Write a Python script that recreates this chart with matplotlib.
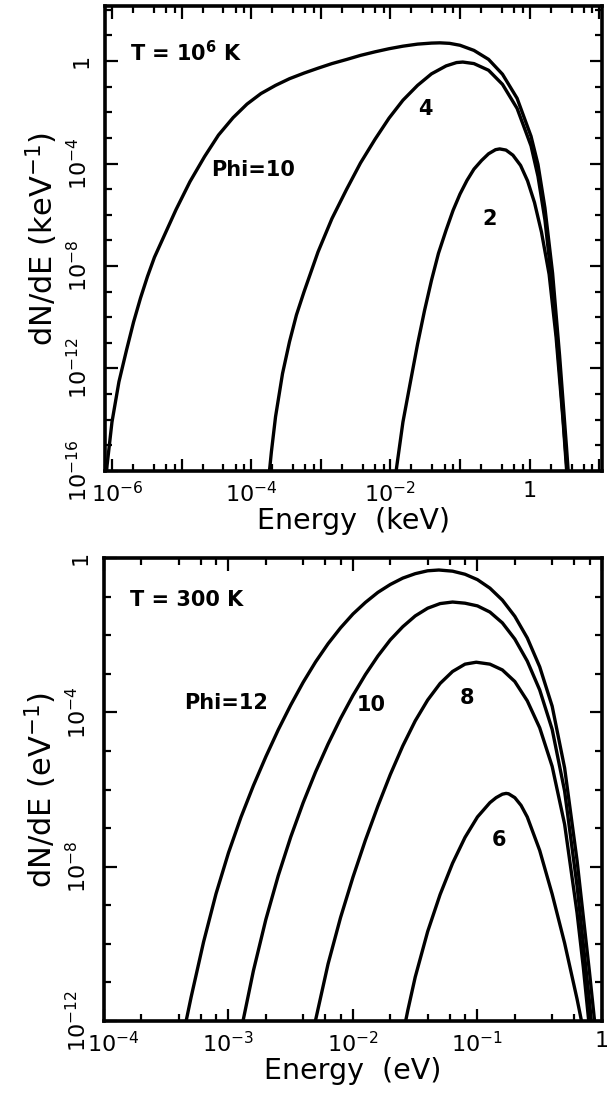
import matplotlib
matplotlib.use('Agg')
import matplotlib.pyplot as plt
import matplotlib.ticker as mticker
import matplotlib.transforms as mtransforms
import numpy as np

# T = 1e6 K spectra: log10(E / keV) and log10(dN/dE / keV^-1)
hot_phi10_logE = [-6.10, -6.07, -6.00, -5.90, -5.79, -5.69, -5.59, -5.49, -5.39, -5.28,
                  -5.08, -4.88, -4.67, -4.47, -4.26, -4.06, -3.86, -3.65, -3.45, -3.24,
                  -3.04, -2.84, -2.63, -2.43, -2.22, -2.02, -1.82, -1.61, -1.41, -1.29,
                  -1.15, -1.00, -0.80, -0.59, -0.39, -0.18, 0.02, 0.12, 0.22, 0.33,
                  0.43, 0.53, 0.56]
hot_phi10_logN = [-16.7, -15.77, -14.09, -12.52, -11.27, -10.19, -9.25, -8.41, -7.66, -7.00,
                  -5.80, -4.71, -3.73, -2.89, -2.21, -1.68, -1.27, -0.95, -0.69, -0.47,
                  -0.28, -0.10, 0.06, 0.22, 0.36, 0.48, 0.58, 0.66, 0.70, 0.71,
                  0.69, 0.615, 0.415, 0.065, -0.515, -1.455, -2.935, -4.035, -5.735, -8.285,
                  -11.485, -15.085, -16.24]

hot_phi4_logE = [-3.74, -3.71, -3.65, -3.55, -3.45, -3.35, -3.24, -3.04, -2.84, -2.63,
                 -2.43, -2.22, -2.02, -1.82, -1.61, -1.41, -1.20, -1.05, -0.96, -0.80,
                 -0.59, -0.39, -0.18, 0.02, 0.12, 0.22, 0.33, 0.43, 0.53, 0.55]
hot_phi4_logN = [-16.07, -15.26, -13.88, -12.2, -10.96, -9.91, -9.0, -7.45, -6.15, -5.01,
                 -3.98, -3.05, -2.23, -1.53, -0.95, -0.50, -0.19, -0.06, -0.04, -0.10,
                 -0.36, -0.91, -1.85, -3.31, -4.5, -6.2, -8.9, -12.1, -15.7, -16.4]

hot_phi2_logE = [-1.92, -1.91, -1.82, -1.71, -1.61, -1.51, -1.41, -1.31, -1.20, -1.10,
                 -1.00, -0.90, -0.80, -0.69, -0.59, -0.49, -0.43, -0.34, -0.24, -0.13,
                 -0.03, 0.07, 0.17, 0.28, 0.38, 0.48, 0.53, 0.55]
hot_phi2_logN = [-16.06, -15.84, -14.09, -12.49, -11.05, -9.74, -8.56, -7.51, -6.60, -5.83,
                 -5.19, -4.66, -4.22, -3.88, -3.62, -3.46, -3.43, -3.475, -3.675, -4.075,
                 -4.675, -5.525, -6.675, -8.325, -10.775, -14.025, -15.925, -16.7]

# T = 300 K spectra: log10(E / eV) and log10(dN/dE / eV^-1)
cold_phi12_logE = [-3.35, -3.30, -3.20, -3.10, -3.00, -2.90, -2.80, -2.70, -2.60, -2.50,
                   -2.40, -2.30, -2.20, -2.10, -2.00, -1.90, -1.80, -1.70, -1.60, -1.50,
                   -1.40, -1.31, -1.20, -1.10, -1.00, -0.90, -0.80, -0.70, -0.60, -0.50,
                   -0.40, -0.30, -0.20, -0.10, -0.05]
cold_phi12_logN = [-12.15, -11.38, -9.95, -8.70, -7.64, -6.72, -5.90, -5.15, -4.45, -3.81,
                   -3.22, -2.69, -2.22, -1.81, -1.45, -1.15, -0.89, -0.685, -0.52, -0.405,
                   -0.33, -0.31, -0.34, -0.42, -0.56, -0.78, -1.09, -1.51, -2.07, -2.82,
                   -3.84, -5.44, -7.84, -10.74, -12.29]

cold_phi10_logE = [-2.90, -2.80, -2.70, -2.60, -2.50, -2.40, -2.30, -2.20, -2.10, -2.00,
                   -1.90, -1.80, -1.70, -1.60, -1.50, -1.40, -1.30, -1.20, -1.10, -1.00,
                   -0.90, -0.80, -0.70, -0.60, -0.50, -0.40, -0.30, -0.20, -0.10, -0.08]
cold_phi10_logN = [-12.26, -10.70, -9.37, -8.23, -7.23, -6.34, -5.54, -4.82, -4.16, -3.56,
                   -3.02, -2.54, -2.12, -1.78, -1.50, -1.30, -1.18, -1.14, -1.17, -1.24,
                   -1.40, -1.68, -2.10, -2.67, -3.42, -4.44, -6.04, -8.5, -11.5, -12.2]

cold_phi8_logE = [-2.32, -2.30, -2.20, -2.10, -2.00, -1.90, -1.80, -1.70, -1.60, -1.50,
                  -1.40, -1.30, -1.20, -1.10, -1.01, -0.90, -0.80, -0.70, -0.60, -0.50,
                  -0.40, -0.30, -0.20, -0.15, -0.10]
cold_phi8_logN = [-12.3, -11.97, -10.52, -9.32, -8.27, -7.31, -6.43, -5.61, -4.87, -4.22,
                  -3.68, -3.25, -2.94, -2.75, -2.70, -2.75, -2.90, -3.20, -3.70, -4.40,
                  -5.40, -6.90, -9.20, -10.6, -12.2]

cold_phi6_logE = [-1.58, -1.56, -1.50, -1.40, -1.30, -1.20, -1.10, -1.00, -0.90, -0.85,
                  -0.80, -0.77, -0.75, -0.70, -0.65, -0.60, -0.50, -0.40, -0.30, -0.20,
                  -0.15]
cold_phi6_logN = [-12.05, -11.73, -10.86, -9.68, -8.72, -7.91, -7.24, -6.71, -6.34, -6.21,
                  -6.12, -6.10, -6.11, -6.21, -6.41, -6.71, -7.58, -8.71, -9.98, -11.43,
                  -12.23]

hot_xticks = [1e-6, 1e-5, 1e-4, 1e-3, 1e-2, 1e-1, 1, 10]
hot_xlabels = [r'$10^{-6}$', '', r'$10^{-4}$', '', r'$10^{-2}$', '', '1', '']
hot_yticks = [1e-16, 1e-12, 1e-8, 1e-4, 1]
hot_ylabels = [r'$10^{-16}$', r'$10^{-12}$', r'$10^{-8}$', r'$10^{-4}$', '1']

cold_xticks = [1e-4, 1e-3, 1e-2, 1e-1, 1]
cold_xlabels = [r'$10^{-4}$', r'$10^{-3}$', r'$10^{-2}$', r'$10^{-1}$', '1']
cold_yticks = [1e-12, 1e-8, 1e-4, 1]
cold_ylabels = [r'$10^{-12}$', r'$10^{-8}$', r'$10^{-4}$', '1']

plt.rcParams['font.family'] = ['DejaVu Sans']
plt.rcParams['mathtext.default'] = 'regular'

fig = plt.figure(figsize=(6.07, 10.94), dpi=100)
ax1 = fig.add_axes([0.1730, 0.5695, 0.8188, 0.4246])
ax2 = fig.add_axes([0.1713, 0.0667, 0.8204, 0.4232])


def style_axes(ax, xticks, xlabels, yticks, ylabels, ylo, yhi):
    ax.set_xscale('log')
    ax.set_yscale('log')
    for sp in ax.spines.values():
        sp.set_linewidth(2.6)
    ax.xaxis.set_major_locator(mticker.FixedLocator(xticks))
    ax.xaxis.set_major_formatter(mticker.FixedFormatter(xlabels))
    ax.xaxis.set_minor_locator(mticker.LogLocator(base=10, subs=(2, 4, 6, 8), numticks=50))
    ax.xaxis.set_minor_formatter(mticker.NullFormatter())
    ax.yaxis.set_major_locator(mticker.FixedLocator(yticks))
    ax.yaxis.set_major_formatter(mticker.FixedFormatter(ylabels))
    ax.yaxis.set_minor_locator(mticker.FixedLocator([10.0 ** k for k in range(ylo, yhi + 1)]))
    ax.yaxis.set_minor_formatter(mticker.NullFormatter())
    ax.tick_params(which='both', direction='in', top=True, right=True, width=1.6)
    ax.tick_params(which='major', length=9)
    ax.tick_params(which='minor', length=5)
    ax.tick_params(axis='x', which='major', labelsize=16, pad=7)
    ax.tick_params(axis='y', which='major', labelsize=16, pad=10, labelrotation=90)
    for lab in ax.get_yticklabels():
        lab.set_va('center')


def nudge_first_xlabel(ax, dx_px):
    # push the leftmost energy label off the corner
    lab = ax.get_xticklabels()[0]
    shift = mtransforms.ScaledTranslation(dx_px / fig.dpi, 0, fig.dpi_scale_trans)
    lab.set_transform(lab.get_transform() + shift)


def draw(ax, logE, logN):
    ax.plot(10.0 ** np.array(logE), 10.0 ** np.array(logN), color='black', lw=2.4,
            solid_joinstyle='round')


# top: T = 1e6 K
draw(ax1, hot_phi10_logE, hot_phi10_logN)
draw(ax1, hot_phi4_logE, hot_phi4_logN)
draw(ax1, hot_phi2_logE, hot_phi2_logN)
style_axes(ax1, hot_xticks, hot_xlabels, hot_yticks, hot_ylabels, -16, 2)
ax1.set_xlim(10 ** -6.1, 10 ** 1.04)
ax1.set_ylim(1e-16, 10 ** 2.13)
ax1.set_xlabel('Energy  (keV)', fontsize=20.5, labelpad=1)
ax1.set_ylabel(r'dN/dE (keV$^{-1}$)', fontsize=22, labelpad=4)
ax1.text(0.05, 0.90, r'T = 10$^{6}$ K', transform=ax1.transAxes, fontsize=15,
         fontweight='bold', ha='left', va='center')
ax1.text(1.07e-4, 5.6e-5, 'Phi=10', fontsize=15, fontweight='bold', ha='center', va='center')
ax1.text(3.2e-2, 1.4e-2, '4', fontsize=15, fontweight='bold', ha='center', va='center')
ax1.text(0.27, 6.6e-7, '2', fontsize=15, fontweight='bold', ha='center', va='center')
nudge_first_xlabel(ax1, 5)

# bottom: T = 300 K
draw(ax2, cold_phi12_logE, cold_phi12_logN)
draw(ax2, cold_phi10_logE, cold_phi10_logN)
draw(ax2, cold_phi8_logE, cold_phi8_logN)
draw(ax2, cold_phi6_logE, cold_phi6_logN)
style_axes(ax2, cold_xticks, cold_xlabels, cold_yticks, cold_ylabels, -12, 0)
ax2.set_xlim(1e-4, 1)
ax2.set_ylim(1e-12, 1)
ax2.set_xlabel('Energy  (eV)', fontsize=20.5, labelpad=1)
ax2.set_ylabel(r'dN/dE (eV$^{-1}$)', fontsize=22, labelpad=4)
ax2.text(0.052, 0.91, 'T = 300 K', transform=ax2.transAxes, fontsize=15,
         fontweight='bold', ha='left', va='center')
ax2.text(9.5e-4, 1.7e-4, 'Phi=12', fontsize=15, fontweight='bold', ha='center', va='center')
ax2.text(1.4e-2, 1.6e-4, '10', fontsize=15, fontweight='bold', ha='center', va='center')
ax2.text(8.3e-2, 2.3e-4, '8', fontsize=15, fontweight='bold', ha='center', va='center')
ax2.text(0.15, 4.8e-8, '6', fontsize=15, fontweight='bold', ha='center', va='center')
nudge_first_xlabel(ax2, 9)

fig.savefig('out.png', dpi=100)
